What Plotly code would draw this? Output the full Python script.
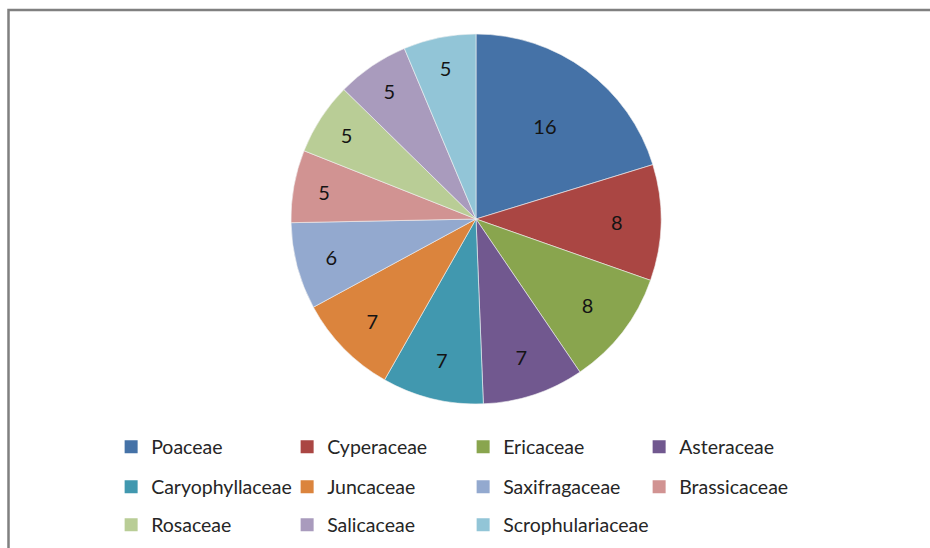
import plotly.graph_objects as go

families = ["Poaceae", "Cyperaceae", "Ericaceae", "Asteraceae", "Caryophyllaceae",
            "Juncaceae", "Saxifragaceae", "Brassicaceae", "Rosaceae", "Salicaceae",
            "Scrophulariaceae"]
counts = [16, 8, 8, 7, 7, 7, 6, 5, 5, 5, 5]
colors = ["#4572A7", "#AA4643", "#89A54E", "#71588F", "#4198AF", "#DB843D",
          "#93A9CF", "#D19392", "#B9CD96", "#A99BBD", "#92C5D7"]

W, H = 930, 548
FONT = "Lato"

fig = go.Figure()
cx, cy, r = 476, 219, 185
fig.add_trace(go.Pie(
    labels=families, values=counts, sort=False, direction="clockwise", rotation=0,
    marker=dict(colors=colors, line=dict(color="#f2f2f2", width=0.6)),
    textinfo="value", textposition="inside", insidetextorientation="horizontal",
    textfont=dict(family=FONT, size=20, color="#141414"),
    domain=dict(x=[(cx - r) / W, (cx + r) / W], y=[1 - (cy + r) / H, 1 - (cy - r) / H]),
    showlegend=False, hoverinfo="label+value",
))

# legend rows: (first index, end index, legend id, row centre px, column of first entry)
x0 = 0.1195
col_step = 176 / W
rows = [(0, 4, "legend", 447, 0), (4, 8, "legend2", 487, 0),
        (8, 10, "legend3", 525, 0), (10, 11, "legend4", 525, 2)]
for start, end, lg, _, _ in rows:
    for i in range(start, end):
        fig.add_trace(go.Scatter(
            x=[None], y=[None], mode="markers", name=families[i], legend=lg,
            marker=dict(symbol="square", size=13, color=colors[i]),
        ))

legend_common = dict(orientation="h", xanchor="left", yanchor="middle",
                     entrywidth=131, entrywidthmode="pixels", itemwidth=30,
                     font=dict(family=FONT, size=19.5, color="#262626"),
                     bgcolor="rgba(0,0,0,0)")
layout_legends = {}
for start, end, lg, ypx, col in rows:
    d = dict(legend_common, y=1 - ypx / H, x=x0 + col * col_step)
    if lg == "legend4":
        d["entrywidth"] = 170
    layout_legends[lg] = d

fig.update_layout(
    width=W, height=H, margin=dict(l=0, r=0, t=0, b=0),
    paper_bgcolor="white", plot_bgcolor="white",
    xaxis=dict(visible=False), yaxis=dict(visible=False),
    shapes=[dict(type="rect", xref="paper", yref="paper",
                 x0=8.5 / W, x1=1.05, y0=-0.05, y1=1 - 10 / H,
                 line=dict(color="#808080", width=2.5), fillcolor="rgba(0,0,0,0)")],
    **layout_legends,
)

fig.write_html("out.html")
